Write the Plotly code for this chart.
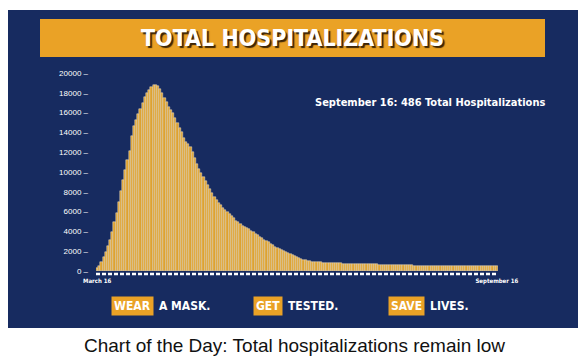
import plotly.graph_objects as go

# Daily total hospitalizations, March 16 - September 16
hospitalizations = [
    350, 550, 900, 1400, 1900, 2500, 3100, 3900, 4900, 5900,
    7000, 8100, 9200, 10200, 11200, 12100, 13600, 14600, 15300, 15900,
    16400, 17000, 17600, 18000, 18300, 18600, 18750, 18825, 18700, 18400,
    18000, 17500, 17100, 16600, 16300, 16000, 15500, 15000, 14400, 14000,
    13400, 13000, 12800, 12500, 12000, 11400, 10800, 10300, 9900, 9500,
    9100, 8700, 8300, 7900, 7500, 7200, 6900, 6700, 6400, 6200,
    6000, 5800, 5600, 5350, 5100, 4900, 4700, 4550, 4400, 4300,
    4200, 4050, 3900, 3750, 3600, 3450, 3300, 3150, 3000, 2900,
    2750, 2600, 2450, 2350, 2250, 2100, 2000, 1900, 1800, 1700,
    1600, 1500, 1400, 1300, 1200, 1150, 1100, 1050, 1000, 960,
    930, 900, 880, 860, 840, 820, 810, 800, 790, 780,
    770, 760, 760, 750, 750, 740, 740, 730, 730, 720,
    720, 710, 700, 700, 690, 680, 680, 670, 660, 660,
    650, 640, 640, 630, 620, 620, 610, 600, 600, 590,
    580, 580, 570, 570, 560, 560, 550, 550, 540, 540,
    530, 530, 520, 520, 520, 510, 510, 500, 500, 500,
    490, 490, 480, 480, 480, 470, 470, 470, 460, 460,
    460, 470, 470, 460, 470, 480, 470, 470, 480, 470,
    480, 490, 480, 490, 486,
]
day_index = list(range(len(hospitalizations)))
x_tick_vals = [0, len(hospitalizations) - 1]
x_tick_text = ["March 16", "September 16"]
y_tick_vals = list(range(0, 20001, 2000))
y_tick_text = [f"{v} –" for v in y_tick_vals]

title_text = "TOTAL HOSPITALIZATIONS"
note_text = "September 16: 486 Total Hospitalizations"
caption_text = "Chart of the Day: Total hospitalizations remain low"
slogans = [("WEAR", "A MASK."), ("GET", "TESTED."), ("SAVE", "LIVES.")]

NAVY = "#172b60"
ORANGE = "#eaa226"
BAR = "#dca232"
COND = "DejaVu Sans Condensed, Liberation Sans Narrow, Arial Narrow, sans-serif"

# page body has an 8px margin: shrink the figure so it fits the 586x362 window
OFF = 8
W, H = 586 - OFF, 362 - OFF
PLOT_X0, PLOT_X1, PLOT_Y0, PLOT_Y1 = 96, 498, 73, 271  # in window pixels
L, T = PLOT_X0 - OFF, PLOT_Y0 - OFF
R, B = 586 - PLOT_X1, 362 - PLOT_Y1
pw, ph = PLOT_X1 - PLOT_X0, PLOT_Y1 - PLOT_Y0


def px(x):
    return (x - PLOT_X0) / pw


def py(y):
    return (PLOT_Y1 - y) / ph


fig = go.Figure()
fig.add_trace(go.Bar(
    x=day_index, y=hospitalizations,
    marker=dict(color=BAR, line=dict(color="#fbf0d6", width=0.45)),
    hoverinfo="x+y",
))

shapes = [
    dict(type="rect", xref="paper", yref="paper", x0=px(8), x1=px(578), y0=py(328), y1=py(10),
         fillcolor=NAVY, line=dict(width=0), layer="below"),
    dict(type="rect", xref="paper", yref="paper", x0=px(40), x1=px(545), y0=py(57), y1=py(19),
         fillcolor=ORANGE, line=dict(width=0), layer="below"),
    dict(type="line", xref="x", yref="paper", x0=-0.5, x1=len(hospitalizations) - 0.5,
         y0=py(274), y1=py(274), line=dict(color="white", width=2.5, dash="4px,2px")),
]


def ann(text, x, y, font, xanchor="center", **kw):
    return dict(text=text, x=px(x), y=py(y), xref="paper", yref="paper", xanchor=xanchor,
                yanchor="middle", showarrow=False, font=font, **kw)


annotations = [
    ann(title_text, 292.5, 38,
        dict(family=COND, size=23, color="white", weight="bold", shadow="2px 2px 1px #3d2506")),
    ann(note_text, 430, 102, dict(family=COND, size=11, color="white", weight="bold")),
    ann(caption_text, 294, 345, dict(family="Liberation Sans, Arial, sans-serif", size=19, color="#111111")),
]

slogan_pos = [(154, 157), (283, 286), (425, 428)]
for (hl, rest), (xr, xl) in zip(slogans, slogan_pos):
    annotations.append(ann(hl, xr, 306, dict(family=COND, size=12, color="white", weight="bold"),
                           xanchor="right", bgcolor=ORANGE, borderpad=2))
    annotations.append(ann(rest, xl, 306, dict(family=COND, size=12, color="white", weight="bold"),
                           xanchor="left"))

fig.update_layout(
    width=W, height=H,
    margin=dict(l=L, r=R, t=T, b=B, pad=0),
    paper_bgcolor="white", plot_bgcolor=NAVY,
    bargap=0, showlegend=False,
    shapes=shapes, annotations=annotations,
    xaxis=dict(range=[-0.5, len(hospitalizations) - 0.5], tickvals=x_tick_vals, ticktext=x_tick_text,
               showgrid=False, zeroline=False, showline=False, ticks="",
               tickfont=dict(family=COND, size=6, color="white", weight="bold"), ticklabelstandoff=5),
    yaxis=dict(range=[0, 20000], tickvals=y_tick_vals, ticktext=y_tick_text,
               showgrid=False, zeroline=False, showline=False, ticks="",
               tickfont=dict(family="Liberation Sans, Arial, sans-serif", size=8, color="white"),
               ticklabelstandoff=7),
)

fig.write_html("out.html")
